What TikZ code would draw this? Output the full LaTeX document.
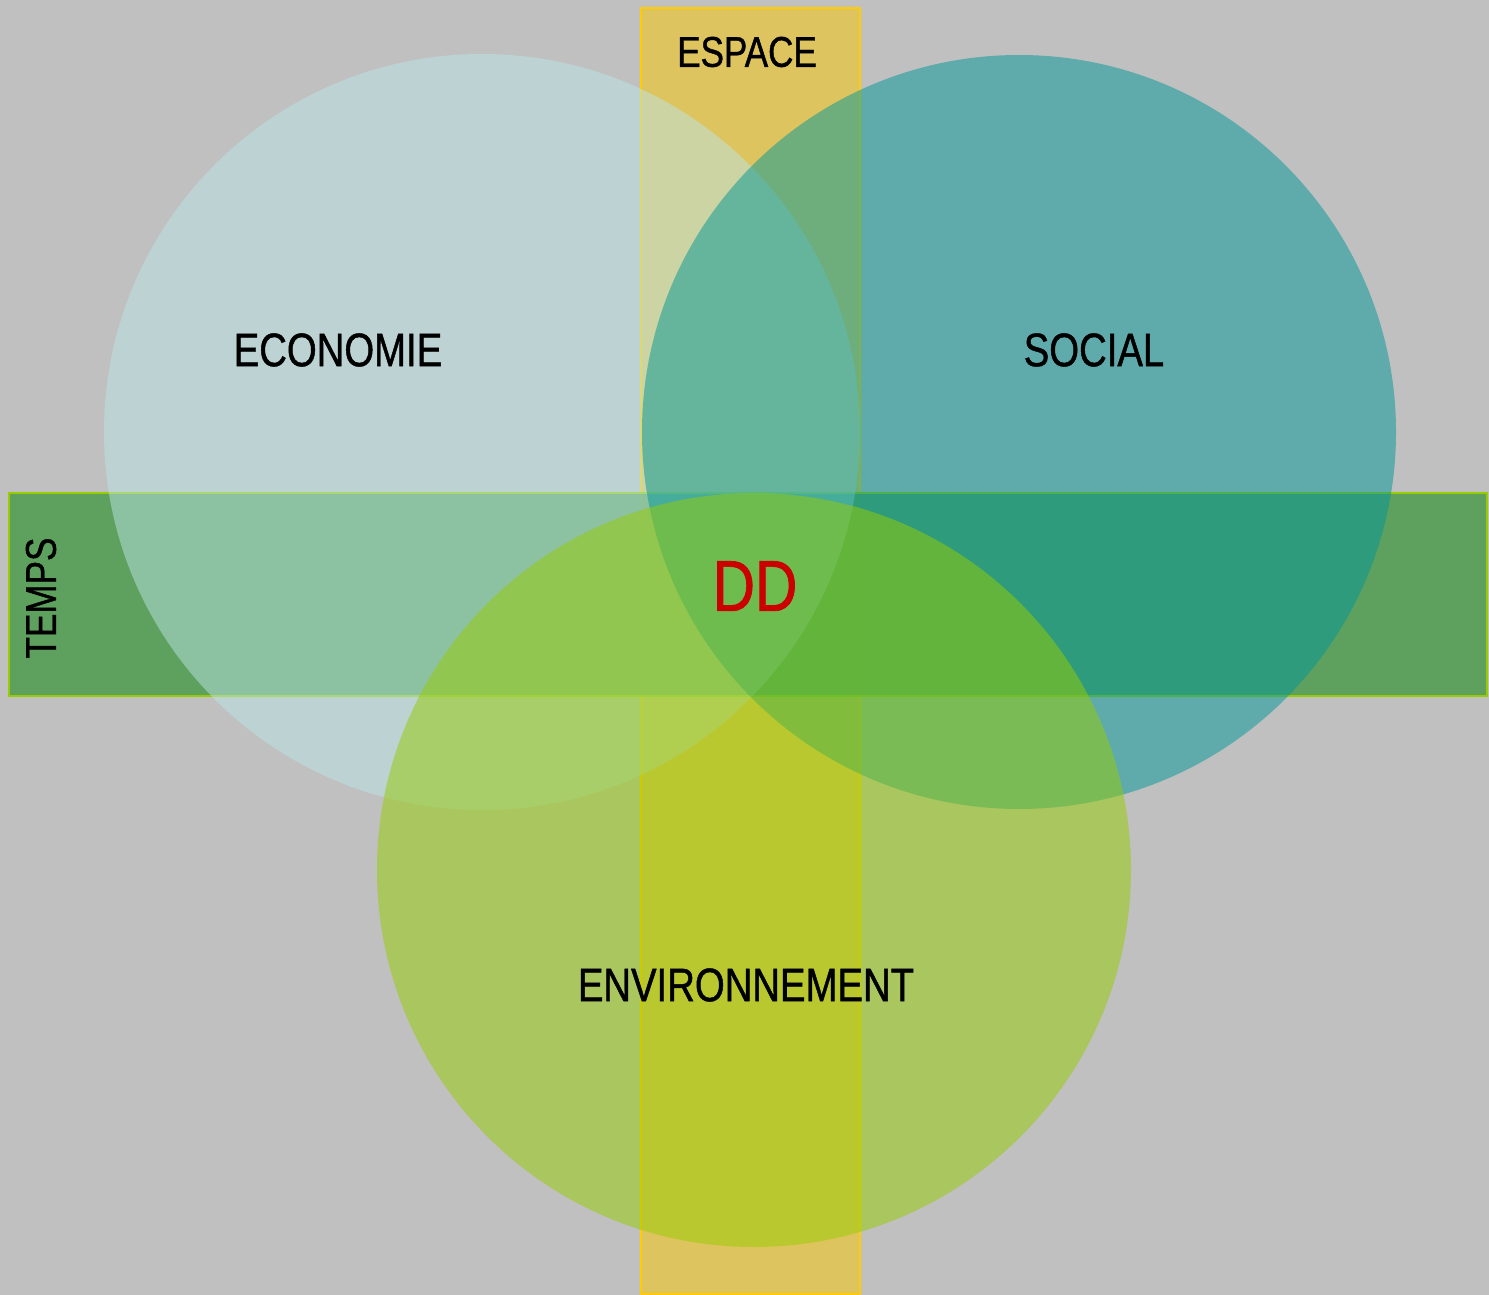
\documentclass[tikz,border=0pt]{standalone}
\usepackage{fontspec}
\setmainfont{Liberation Sans}[FakeStretch=0.815, FakeBold=1]
\definecolor{bggray}{RGB}{192,192,192}
\definecolor{espacefill}{RGB}{222,196,94}
\definecolor{espaceline}{RGB}{255,204,0}
\definecolor{tempsfill}{RGB}{84,158,85}
\definecolor{tempsline}{RGB}{153,204,0}
\definecolor{ecofill}{RGB}{186,228,230}
\definecolor{socfill}{RGB}{0,152,154}
\definecolor{envfill}{RGB}{150,204,0}
\definecolor{ddred}{RGB}{204,0,0}
\tikzset{
  band/.style={line width=2pt},
  pillar/.style={circle, minimum size=#1, inner sep=0pt, fill opacity=0.5, draw=none},
  lbl/.style={inner sep=0pt, text=black, font=\fontsize{47}{50}\selectfont},
  smalllbl/.style={inner sep=0pt, text=black, font=\fontsize{43}{46}\selectfont},
}
\begin{document}
\begin{tikzpicture}[x=1pt,y=-1pt]
\useasboundingbox (0,0) rectangle (1489,1295);
\fill[bggray] (0,0) rectangle (1489,1295);
% ESPACE band
\draw[band, draw=espaceline, fill=espacefill] (641,8) rectangle (860,1294);
% TEMPS band
\fill[tempsfill, fill opacity=0.9] (9,493) rectangle (1487,696);
\draw[band, draw=tempsline] (9,493) rectangle (1487,696);
% circles
\node[pillar=756pt, fill=ecofill] (eco) at (482,432) {};
\node[pillar=754pt, fill=socfill] (soc) at (1019,432) {};
\node[pillar=754pt, fill=envfill] (env) at (754,870) {};
% labels
\node[lbl] (ecol) at (338,350) {ECONOMIE};
\node[lbl] (socl) at (1094,350) {SOCIAL};
\node[lbl] (envl) at (746,985) {ENVIRONNEMENT};
\node[smalllbl] (espl) at (747,52) {ESPACE};
\node[smalllbl, rotate=90] (templ) at (41,598) {TEMPS};
\node[inner sep=0pt, text=ddred, font=\fontsize{72}{76}\selectfont] (dd) at (755,586) {DD};
\end{tikzpicture}
\end{document}
